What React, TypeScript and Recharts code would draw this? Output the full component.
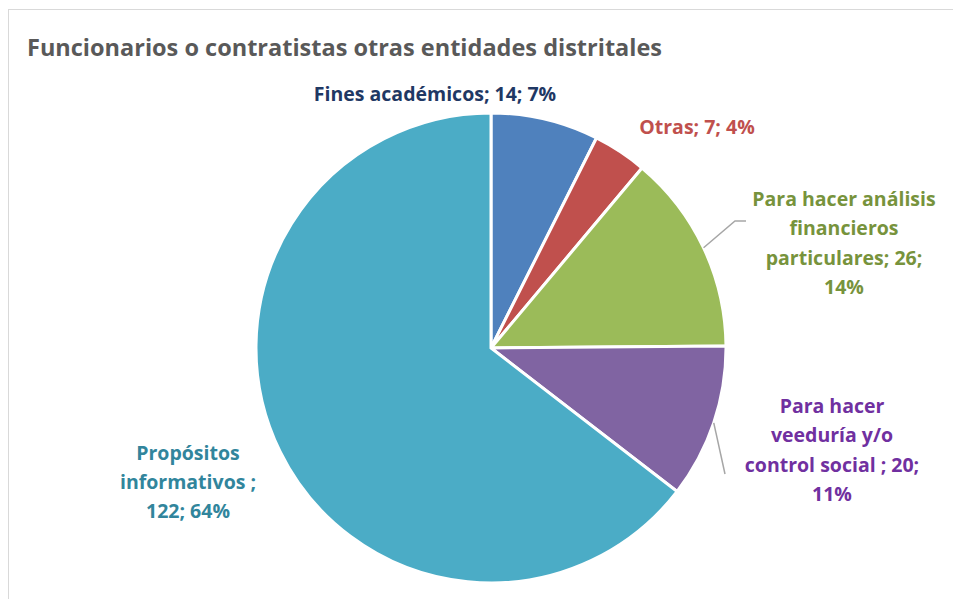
import { PieChart, Pie, Cell } from "recharts";

const CATEGORIES = [
  "Fines académicos",
  "Otras",
  "Para hacer análisis financieros particulares",
  "Para hacer veeduría y/o control social ",
  "Propósitos informativos ",
];
const VALUES = [14, 7, 26, 20, 122];
const PERCENT_LABELS = ["7%", "4%", "14%", "11%", "64%"];

const SLICE_COLORS = ["#4F81BD", "#C0504D", "#9BBB59", "#8064A2", "#4BACC6"];
const LABEL_COLORS = ["#1F3864", "#C0504D", "#77933C", "#7030A0", "#31859C"];

// label text broken into lines the way the original wraps them
const LABEL_LINES = [
  ["Fines académicos; 14; 7%"],
  ["Otras; 7; 4%"],
  ["Para hacer análisis", "financieros", "particulares; 26;", "14%"],
  ["Para hacer", "veeduría y/o", "control social ; 20;", "11%"],
  ["Propósitos", "informativos ;", "122; 64%"],
];

// label block centre relative to pie centre, and leader line bend points
const LABEL_OFFSET = [
  { dx: -56, dy: -255 },
  { dx: 206, dy: -222 },
  { dx: 353, dy: -106 },
  { dx: 341, dy: 101 },
  { dx: -303, dy: 133 },
];
const LEADER_POINTS: ({ dx: number; dy: number }[] | null)[] = [
  null,
  null,
  [{ dx: 244, dy: -127 }, { dx: 255, dy: -127 }],
  [{ dx: 234, dy: 126 }],
  null,
];

const data = CATEGORIES.map((name, i) => ({ name, value: VALUES[i], pct: PERCENT_LABELS[i] }));

const RAD = Math.PI / 180;
const FONT = "'Open Sans', sans-serif";
const LINE_H = 29.3;

function renderLabel(props: any) {
  const { cx, cy, midAngle, outerRadius, index } = props;
  const lines = LABEL_LINES[index];
  const off = LABEL_OFFSET[index];
  const x = cx + off.dx;
  const yTop = cy + off.dy - ((lines.length - 1) * LINE_H) / 2;
  const leader = LEADER_POINTS[index];
  let path = null;
  if (leader) {
    const sx = cx + Math.cos(-midAngle * RAD) * outerRadius;
    const sy = cy + Math.sin(-midAngle * RAD) * outerRadius;
    const pts = [[sx, sy], ...leader.map((p) => [cx + p.dx, cy + p.dy])];
    path = (
      <polyline
        points={pts.map((p) => p.join(",")).join(" ")}
        fill="none"
        stroke="#A6A6A6"
        strokeWidth={1.5}
      />
    );
  }
  return (
    <g key={`lbl-${index}`}>
      {path}
      <text
        x={x}
        y={yTop}
        textAnchor="middle"
        dominantBaseline="central"
        fill={LABEL_COLORS[index]}
        fontFamily={FONT}
        fontWeight={700}
        fontSize={19.5}
      >
        {lines.map((l, i) => (
          <tspan key={i} x={x} dy={i === 0 ? 0 : LINE_H}>
            {l}
          </tspan>
        ))}
      </text>
    </g>
  );
}

export default function App() {
  return (
    <div
      style={{
        position: "absolute",
        left: 0,
        top: 0,
        width: 953,
        height: 599,
        overflow: "hidden",
        background: "#fff",
      }}
    >
      <div
        style={{
          position: "absolute",
          left: 8,
          top: 9,
          width: 1000,
          height: 700,
          border: "1px solid #D9D9D9",
        }}
      />
      <div
        style={{
          position: "absolute",
          left: 27,
          top: 31,
          fontFamily: FONT,
          fontWeight: 700,
          fontSize: 23.5,
          lineHeight: "32px",
          color: "#595959",
          whiteSpace: "nowrap",
        }}
      >
        Funcionarios o contratistas otras entidades distritales
      </div>
      <div style={{ position: "absolute", left: 0, top: 0 }}>
        <PieChart width={953} height={599} margin={{ top: 0, right: 0, bottom: 0, left: 0 }}>
          <Pie
            data={data}
            dataKey="value"
            nameKey="name"
            cx={491}
            cy={348}
            outerRadius={235}
            startAngle={90}
            endAngle={-270}
            stroke="#fff"
            strokeWidth={3}
            label={renderLabel}
            labelLine={false}
            isAnimationActive={false}
          >
            {data.map((_, i) => (
              <Cell key={i} fill={SLICE_COLORS[i]} />
            ))}
          </Pie>
        </PieChart>
      </div>
    </div>
  );
}
